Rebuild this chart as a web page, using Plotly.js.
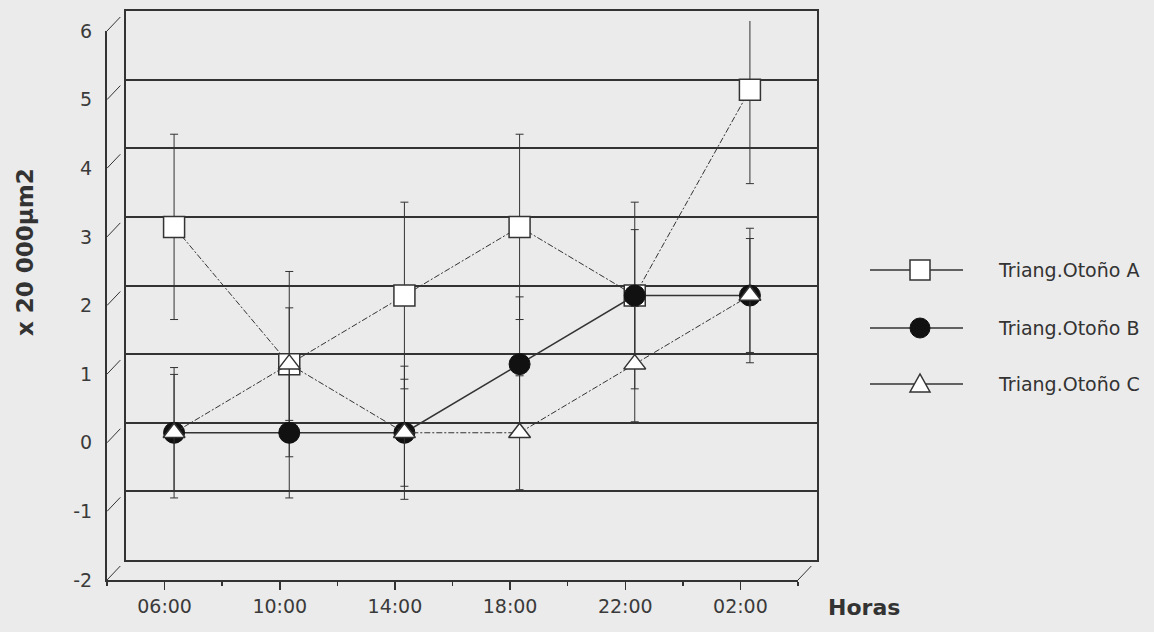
<!DOCTYPE html>
<html>
<head>
<meta charset="utf-8">
<script src="https://cdn.plot.ly/plotly-3.0.1.min.js"></script>
<style>html,body{margin:0;padding:0;background:#ebebeb;}#chart{width:1154px;height:632px;}</style>
</head>
<body>
<div id="chart"></div>
<script>
// ---- data ----
const hours = ['06:00', '10:00', '14:00', '18:00', '22:00', '02:00'];
const serieA = [3, 1, 2, 3, 2, 5];
const serieB = [0, 0, 0, 1, 2, 2];
const serieC = [0, 1, 0, 0, 1, 2];
const errA = [1.35, 1.35, 1.36, 1.35, 1.36, 1.37];
const errB = [0.95, 0.95, 0.97, 0.98, 0.96, 0.98];
const errC = [0.85, 0.82, 0.78, 0.83, 0.84, 0.83];
const yTicks = [-2, -1, 0, 1, 2, 3, 4, 5, 6];
const yTickText = ['-2', '-1', '0', '1', '2', '3', '4', '5', '6'];
const gridVals = [-1, 0, 1, 2, 3, 4, 5];
const names = ['Triang.Otoño A', 'Triang.Otoño B', 'Triang.Otoño C'];

// ---- geometry (pseudo 3D) ----
const ML = 107, MT = 11;
const PW = 710, PH = 569;          // plot area in px
const DX = 19, DY = 20;            // depth offset (px)
const yMin = -2, yMax = 6;
const ink = '#333333';
const bg = '#ebebeb';
const fontFam = 'DejaVu Sans, Liberation Sans, sans-serif';

const backX = [DX / PW, 1];
const backY = [DY / PH, 1];
const frontX = [0, 1 - DX / PW];
const frontY = [0, 1 - DY / PH];
const midX = [DX / 2 / PW, 1 - DX / 2 / PW];
const midY = [DY / 2 / PH, 1 - DY / 2 / PH];

const errStyle = (arr) => ({type: 'data', array: arr, visible: true, thickness: 1, width: 4, color: ink});
const dashed = '6px,2px,2px,2px';

const traces = [
  // empty helpers so the back wall and the front axes exist as subplots
  {x: [], y: [], xaxis: 'x', yaxis: 'y', type: 'scatter', showlegend: false, hoverinfo: 'skip'},
  {x: [], y: [], xaxis: 'x2', yaxis: 'y2', type: 'scatter', showlegend: false, hoverinfo: 'skip'},
  {x: hours, y: serieA, name: names[0], xaxis: 'x3', yaxis: 'y3', type: 'scatter', mode: 'lines+markers',
   line: {color: ink, width: 1, dash: dashed},
   marker: {symbol: 'square', size: 21, color: '#ffffff', line: {color: ink, width: 1.5}},
   error_y: errStyle(errA)},
  {x: hours, y: serieB, name: names[1], xaxis: 'x3', yaxis: 'y3', type: 'scatter', mode: 'lines+markers',
   line: {color: ink, width: 1.5},
   marker: {symbol: 'circle', size: 21, color: '#111111', line: {color: '#111111', width: 1}},
   error_y: errStyle(errB)},
  {x: hours, y: serieC, name: names[2], xaxis: 'x3', yaxis: 'y3', type: 'scatter', mode: 'lines+markers',
   line: {color: ink, width: 1, dash: dashed},
   marker: {symbol: 'triangle-up', size: 19, color: '#ffffff', line: {color: ink, width: 1.5}},
   error_y: errStyle(errC)}
];

// slanted depth connectors
const shapes = [];
const frac = 0.7;
yTicks.forEach(v => {
  const t = (v - yMin) / (yMax - yMin);
  const y0 = frontY[0] + t * (frontY[1] - frontY[0]);
  const y1 = backY[0] + t * (backY[1] - backY[0]);
  shapes.push({type: 'line', xref: 'paper', yref: 'paper',
    x0: 0, y0: y0, x1: frac * backX[0], y1: y0 + frac * (y1 - y0),
    line: {color: ink, width: 1}});
});
shapes.push({type: 'line', xref: 'paper', yref: 'paper',
  x0: frontX[1], y0: 0, x1: frontX[1] + frac * (1 - frontX[1]), y1: frac * backY[0],
  line: {color: ink, width: 1}});

// manual legend (long sample lines like the original)
const px = (x) => (x - ML) / PW;
const py = (y) => 1 - (y - MT) / PH;
const legRows = [270, 328, 384];
const legSymbols = ['square', 'circle', 'triangle'];
const annotations = [];
legRows.forEach((ry, i) => {
  shapes.push({type: 'line', xref: 'paper', yref: 'paper', x0: px(870), x1: px(963), y0: py(ry), y1: py(ry),
    line: {color: ink, width: 1.5}});
  const base = {xref: 'paper', yref: 'paper', xsizemode: 'pixel', ysizemode: 'pixel',
    xanchor: px(920), yanchor: py(ry)};
  if (legSymbols[i] === 'square') {
    shapes.push(Object.assign({type: 'rect', x0: -10, x1: 10, y0: -10, y1: 10,
      fillcolor: '#ffffff', line: {color: ink, width: 1.5}}, base));
  } else if (legSymbols[i] === 'circle') {
    shapes.push(Object.assign({type: 'circle', x0: -10, x1: 10, y0: -10, y1: 10,
      fillcolor: '#111111', line: {color: '#111111', width: 1}}, base));
  } else {
    shapes.push(Object.assign({type: 'path', path: 'M-10,-8 L10,-8 L0,10 Z',
      fillcolor: '#ffffff', line: {color: ink, width: 1.5}}, base));
  }
  annotations.push({text: names[i], xref: 'paper', yref: 'paper', x: px(996), y: py(ry),
    xanchor: 'left', yanchor: 'middle', showarrow: false,
    font: {family: fontFam, size: 19, color: ink}});
});

annotations.push(
  {text: 'x 20 000µm2', xref: 'paper', yref: 'paper', x: px(25), y: py(252), textangle: -90,
   xanchor: 'center', yanchor: 'middle', showarrow: false,
   font: {family: fontFam, size: 23, color: ink, weight: 'bold'}},
  {text: 'Horas', xref: 'paper', yref: 'paper', x: px(864), y: py(607), xanchor: 'center', yanchor: 'middle',
   showarrow: false, font: {family: fontFam, size: 22, color: ink, weight: 'bold'}}
);

const layout = {
  width: 1154, height: 632,
  margin: {l: ML, r: 1154 - ML - PW, t: MT, b: 632 - MT - PH},
  paper_bgcolor: bg, plot_bgcolor: 'rgba(0,0,0,0)',
  font: {family: fontFam, size: 20, color: ink},
  showlegend: false,
  // back wall
  xaxis: {domain: backX, anchor: 'y', range: [-0.5, 5.5], showgrid: false, zeroline: false,
    showline: true, mirror: true, linecolor: ink, linewidth: 2, showticklabels: false, ticks: ''},
  yaxis: {domain: backY, anchor: 'x', range: [yMin, yMax], tickmode: 'array', tickvals: gridVals, showgrid: true,
    gridcolor: ink, gridwidth: 2, zeroline: false, showline: true, mirror: true,
    linecolor: ink, linewidth: 2, showticklabels: false, ticks: ''},
  // front axes
  xaxis2: {domain: frontX, anchor: 'y2', range: [-0.5, 5.5], showgrid: false, zeroline: false,
    showline: true, linecolor: ink, linewidth: 2, tickmode: 'array', tickvals: hours.map((h, i) => i),
    ticktext: hours, ticks: 'outside', ticklen: 8, tickwidth: 1.5, tickcolor: ink,
    tickfont: {family: fontFam, size: 19, color: '#3a3a3a'},
    minor: {tickmode: 'linear', tick0: -0.5, dtick: 1, ticks: 'outside', ticklen: 4, tickwidth: 1.5, tickcolor: ink}},
  yaxis2: {domain: frontY, anchor: 'x2', range: [yMin, yMax], tickmode: 'array', tickvals: yTicks,
    ticktext: yTickText,
    showgrid: false, zeroline: false, showline: true, linecolor: ink, linewidth: 2, ticks: '',
    ticklabelstandoff: 9, tickfont: {family: fontFam, size: 19, color: '#3a3a3a'}},
  // data plane (middle depth)
  xaxis3: {domain: midX, anchor: 'y3', type: 'category', categoryarray: hours, range: [-0.5, 5.5],
    visible: false},
  yaxis3: {domain: midY, anchor: 'x3', range: [yMin, yMax], visible: false},
  shapes: shapes,
  annotations: annotations
};

Plotly.newPlot('chart', traces, layout, {displayModeBar: false, staticPlot: true});
</script>
</body>
</html>
